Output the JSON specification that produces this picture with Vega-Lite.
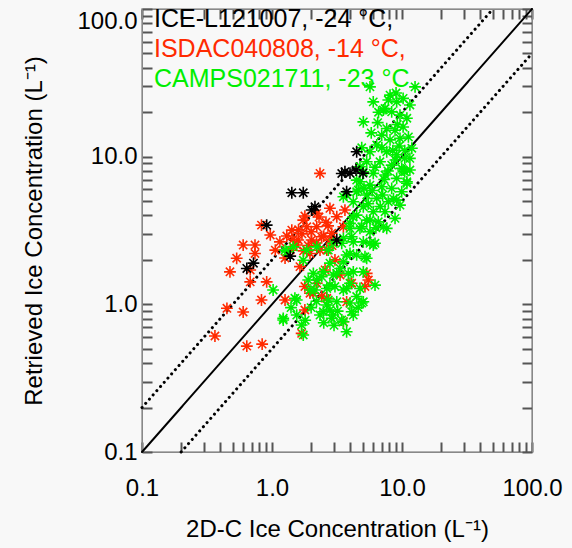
{
  "$schema": "https://vega.github.io/schema/vega-lite/v6.json",
  "width": 390,
  "height": 443,
  "autosize": "none",
  "padding": {"left": 142, "top": 9, "right": 40, "bottom": 96},
  "background": "#f8f8f8",
  "config": {
    "view": {"stroke": "#999999", "strokeWidth": 1.5, "fill": "#f8f8f8"},
    "font": "Liberation Sans"
  },
  "datasets": {
    "pts": [
      {"s":"S","x":2.34,"y":7.71},{"s":"S","x":2.79,"y":4.47},{"s":"S","x":3.64,"y":4.35},{"s":"S","x":0.83,"y":3.44},{"s":"S","x":0.97,"y":2.95},{"s":"S","x":0.6,"y":2.52},{"s":"S","x":0.74,"y":2.52},{"s":"S","x":0.74,"y":2.21},{"s":"S","x":0.535,"y":2.05},{"s":"S","x":0.475,"y":1.66},{"s":"S","x":0.68,"y":1.71},{"s":"S","x":0.68,"y":1.42},{"s":"S","x":0.91,"y":1.42},{"s":"S","x":0.83,"y":1.07},{"s":"S","x":0.45,"y":0.94},{"s":"S","x":0.6,"y":0.887},{"s":"S","x":0.364,"y":0.61},{"s":"S","x":0.64,"y":0.521},{"s":"S","x":0.84,"y":0.538},{"s":"S","x":1.26,"y":1.07},{"s":"S","x":1.79,"y":0.915},{"s":"S","x":1.15,"y":2.65},{"s":"S","x":1.42,"y":3.18},{"s":"S","x":1.74,"y":3.72},{"s":"S","x":1.79,"y":3.96},{"s":"S","x":2.21,"y":4.13},{"s":"S","x":2.21,"y":3.35},{"s":"S","x":2.41,"y":2.87},{"s":"S","x":2.02,"y":2.73},{"s":"S","x":1.59,"y":2.73},{"s":"S","x":1.55,"y":2.52},{"s":"S","x":1.38,"y":2.33},{"s":"S","x":1.96,"y":2.21},{"s":"S","x":2.34,"y":2.33},{"s":"S","x":2.79,"y":2.73},{"s":"S","x":3.54,"y":3.35},{"s":"S","x":3.15,"y":3.92},{"s":"S","x":1.85,"y":3.35},{"s":"S","x":1.64,"y":1.8},{"s":"S","x":2.64,"y":2.33},{"s":"S","x":2.88,"y":3.03},{"s":"S","x":1.79,"y":1.32},{"s":"S","x":1.96,"y":1.19},{"s":"S","x":2.41,"y":1.13},{"s":"S","x":2.21,"y":1.39},{"s":"S","x":3.75,"y":1.04},{"s":"S","x":5.35,"y":1.62},{"s":"S","x":5.51,"y":1.46},{"s":"S","x":5.19,"y":1.32},{"s":"S","x":4.1,"y":1.39},{"s":"S","x":1.69,"y":0.636},{"s":"S","x":3.54,"y":0.763},{"s":"S","x":2.64,"y":1.1},{"s":"S","x":2.08,"y":1.19},{"s":"S","x":1.26,"y":2.06},{"s":"S","x":1.06,"y":2.33},{"s":"S","x":3.05,"y":2.0},{"s":"S","x":3.34,"y":1.58},{"s":"S","x":2.56,"y":1.71},{"s":"S","x":1.9,"y":2.5},{"s":"S","x":2.2,"y":2.6},{"s":"S","x":2.5,"y":2.9},{"s":"S","x":1.7,"y":3.0},{"s":"S","x":2.6,"y":3.6},{"s":"S","x":2.0,"y":3.1},{"s":"S","x":1.6,"y":3.2},{"s":"S","x":2.3,"y":3.9},{"s":"S","x":1.3,"y":2.9},{"s":"S","x":2.7,"y":3.4},{"s":"S","x":1.75,"y":2.3},{"s":"S","x":2.9,"y":2.5},{"s":"S","x":1.45,"y":2.75},
      {"s":"C","x":5.67,"y":29.7},{"s":"C","x":6.01,"y":23.5},{"s":"C","x":12.6,"y":29.7},{"s":"C","x":8.09,"y":26.1},{"s":"C","x":9.1,"y":23.5},{"s":"C","x":10.2,"y":24.8},{"s":"C","x":11.5,"y":22.4},{"s":"C","x":7.4,"y":21.2},{"s":"C","x":8.33,"y":20.1},{"s":"C","x":9.65,"y":19.1},{"s":"C","x":10.9,"y":18.2},{"s":"C","x":5.04,"y":17.2},{"s":"C","x":7.63,"y":15.5},{"s":"C","x":8.84,"y":15.1},{"s":"C","x":10.2,"y":15.9},{"s":"C","x":6.98,"y":14.0},{"s":"C","x":8.09,"y":13.0},{"s":"C","x":9.65,"y":13.3},{"s":"C","x":11.2,"y":13.6},{"s":"C","x":11.9,"y":11.4},{"s":"C","x":6.39,"y":12.0},{"s":"C","x":5.67,"y":10.8},{"s":"C","x":7.63,"y":10.8},{"s":"C","x":9.1,"y":10.3},{"s":"C","x":10.5,"y":9.74},{"s":"C","x":5.35,"y":9.24},{"s":"C","x":6.77,"y":9.24},{"s":"C","x":8.33,"y":8.77},{"s":"C","x":9.95,"y":8.33},{"s":"C","x":11.5,"y":8.12},{"s":"C","x":5.04,"y":7.9},{"s":"C","x":6.01,"y":7.71},{"s":"C","x":7.4,"y":7.51},{"s":"C","x":9.1,"y":7.13},{"s":"C","x":10.9,"y":6.76},{"s":"C","x":4.75,"y":6.76},{"s":"C","x":5.67,"y":6.42},{"s":"C","x":6.98,"y":6.25},{"s":"C","x":8.33,"y":6.1},{"s":"C","x":9.95,"y":5.79},{"s":"C","x":4.48,"y":5.79},{"s":"C","x":5.35,"y":5.5},{"s":"C","x":6.39,"y":5.22},{"s":"C","x":7.85,"y":4.95},{"s":"C","x":9.65,"y":4.7},{"s":"C","x":4.22,"y":4.95},{"s":"C","x":3.75,"y":5.5},{"s":"C","x":5.04,"y":4.58},{"s":"C","x":6.01,"y":4.24},{"s":"C","x":7.4,"y":4.24},{"s":"C","x":8.84,"y":3.82},{"s":"C","x":4.48,"y":4.02},{"s":"C","x":5.35,"y":3.72},{"s":"C","x":6.57,"y":3.62},{"s":"C","x":7.63,"y":3.27},{"s":"C","x":4.75,"y":3.27},{"s":"C","x":5.67,"y":3.1},{"s":"C","x":3.98,"y":3.27},{"s":"C","x":5.04,"y":2.65},{"s":"C","x":6.01,"y":2.52},{"s":"C","x":4.22,"y":2.65},{"s":"C","x":3.54,"y":2.8},{"s":"C","x":4.48,"y":2.16},{"s":"C","x":5.35,"y":2.05},{"s":"C","x":3.75,"y":2.16},{"s":"C","x":5.04,"y":1.66},{"s":"C","x":4.22,"y":1.66},{"s":"C","x":3.34,"y":1.75},{"s":"C","x":6.2,"y":1.35},{"s":"C","x":4.75,"y":1.28},{"s":"C","x":3.75,"y":1.28},{"s":"C","x":2.96,"y":1.58},{"s":"C","x":2.64,"y":1.28},{"s":"C","x":5.04,"y":1.04},{"s":"C","x":3.98,"y":1.02},{"s":"C","x":3.15,"y":1.04},{"s":"C","x":2.64,"y":0.99},{"s":"C","x":4.22,"y":0.846},{"s":"C","x":3.54,"y":0.763},{"s":"C","x":3.75,"y":0.652},{"s":"C","x":2.96,"y":0.846},{"s":"C","x":2.48,"y":0.891},{"s":"C","x":7.85,"y":24.2},{"s":"C","x":7.18,"y":20.7},{"s":"C","x":10.5,"y":7.9},{"s":"C","x":11.5,"y":9.74},
      {"s":"C","x":1.02,"y":1.25},{"s":"C","x":1.22,"y":0.804},{"s":"C","x":1.55,"y":0.846},{"s":"C","x":1.74,"y":0.62},{"s":"C","x":1.69,"y":0.724},{"s":"C","x":1.55,"y":1.07},{"s":"C","x":2.34,"y":0.846},{"s":"C","x":2.79,"y":0.915},{"s":"C","x":2.88,"y":0.804},{"s":"C","x":3.44,"y":0.783},{"s":"C","x":4.1,"y":0.891},{"s":"C","x":4.9,"y":1.02},{"s":"C","x":5.19,"y":2.1},{"s":"C","x":5.67,"y":2.59},{"s":"C","x":1.96,"y":1.25},{"s":"C","x":2.21,"y":1.46},{"s":"C","x":2.79,"y":1.35},{"s":"C","x":3.15,"y":1.62},{"s":"C","x":3.54,"y":1.25},{"s":"C","x":3.98,"y":1.39},{"s":"C","x":4.48,"y":1.13},{"s":"C","x":1.3,"y":2.27},{"s":"C","x":1.74,"y":1.99},{"s":"C","x":2.79,"y":1.9},{"s":"C","x":3.54,"y":1.94},{"s":"C","x":3.98,"y":2.21},{"s":"C","x":2.08,"y":1.62},{"s":"C","x":2.48,"y":1.66},{"s":"C","x":3.54,"y":5.35},{"s":"C","x":4.75,"y":8.54},{"s":"C","x":4.48,"y":6.94},{"s":"C","x":7.18,"y":3.35},{"s":"C","x":9.1,"y":5.08},{"s":"C","x":10.9,"y":6.6},{"s":"C","x":10.2,"y":8.12},{"s":"C","x":1.46,"y":2.45},{"s":"C","x":1.85,"y":2.33},{"s":"C","x":2.21,"y":2.45},{"s":"C","x":2.96,"y":2.59},{"s":"C","x":3.98,"y":3.54},{"s":"C","x":5.67,"y":3.72},{"s":"C","x":6.2,"y":2.59},{"s":"C","x":4.61,"y":5.94},{"s":"C","x":4.9,"y":3.35},{"s":"C","x":1.26,"y":2.33},{"s":"C","x":2.71,"y":2.33},{"s":"C","x":3.44,"y":2.59},{"s":"C","x":4.1,"y":2.87},{"s":"C","x":1.5,"y":1.1},{"s":"C","x":1.22,"y":0.783},{"s":"C","x":1.9,"y":1.46},{"s":"C","x":2.41,"y":1.54},{"s":"C","x":2.14,"y":1.25},{"s":"C","x":3.05,"y":1.32},{"s":"C","x":3.86,"y":1.62},{"s":"C","x":2.71,"y":1.07},
      {"s":"C","x":6.5,"y":17},{"s":"C","x":7.0,"y":11.5},{"s":"C","x":8.5,"y":11},{"s":"C","x":9.2,"y":16.5},{"s":"C","x":6.2,"y":8.5},{"s":"C","x":7.8,"y":8.0},{"s":"C","x":8.9,"y":9.5},{"s":"C","x":5.9,"y":5.9},{"s":"C","x":7.1,"y":5.5},{"s":"C","x":8.6,"y":5.2},{"s":"C","x":6.8,"y":4.6},{"s":"C","x":5.5,"y":4.8},{"s":"C","x":6.3,"y":3.3},{"s":"C","x":4.2,"y":3.9},{"s":"C","x":5.1,"y":6.1},{"s":"C","x":7.3,"y":7.0},{"s":"C","x":9.5,"y":11.8},{"s":"C","x":10.5,"y":11.0},{"s":"C","x":6.6,"y":20},{"s":"C","x":9.0,"y":27},{"s":"C","x":5.8,"y":14.5},{"s":"C","x":4.9,"y":11.5},{"s":"C","x":1.8,"y":0.78},{"s":"C","x":2.0,"y":0.95},{"s":"C","x":2.5,"y":0.75},{"s":"C","x":1.4,"y":0.95},{"s":"C","x":2.2,"y":1.05},{"s":"C","x":3.2,"y":0.9},{"s":"C","x":4.6,"y":0.95},{"s":"C","x":3.0,"y":0.72},
      {"s":"I","x":4.48,"y":10.8},{"s":"I","x":3.64,"y":7.9},{"s":"I","x":3.98,"y":7.74},{"s":"I","x":4.43,"y":8.12},{"s":"I","x":5.01,"y":7.74},{"s":"I","x":3.75,"y":5.79},{"s":"I","x":1.42,"y":5.7},{"s":"I","x":1.74,"y":5.7},{"s":"I","x":2.14,"y":4.58},{"s":"I","x":2.02,"y":4.35},{"s":"I","x":0.91,"y":3.44},{"s":"I","x":0.64,"y":1.75},{"s":"I","x":0.72,"y":1.9},{"s":"I","x":1.38,"y":2.12},{"s":"I","x":3.15,"y":2.73},{"s":"I","x":3.44,"y":7.69}
    ],
    "lines": [
      {"g": "one", "x": 0.1, "y": 0.1}, {"g": "one", "x": 100, "y": 100},
      {"g": "hi", "x": 0.1, "y": 0.2}, {"g": "hi", "x": 50, "y": 100},
      {"g": "lo", "x": 0.2, "y": 0.1}, {"g": "lo", "x": 100, "y": 50}
    ]
  },
  "resolve": {"axis": {"x": "independent", "y": "independent"}},
  "layer": [
    {
      "data": {"name": "lines"},
      "mark": {"type": "line", "color": "black", "strokeCap": "round"},
      "encoding": {
        "x": {"field": "x", "type": "quantitative",
          "scale": {"type": "log", "domain": [0.1, 100], "nice": false},
          "axis": {"orient": "top", "title": null, "labels": false, "grid": false, "ticks": true,
            "tickCount": 5, "tickSize": -10, "tickColor": "#555555", "tickWidth": 2}},
        "y": {"field": "y", "type": "quantitative",
          "scale": {"type": "log", "domain": [0.1, 100], "nice": false},
          "axis": {"orient": "right", "title": null, "labels": false, "grid": false, "ticks": true,
            "tickCount": 5, "tickSize": -10, "tickColor": "#555555", "tickWidth": 2}},
        "detail": {"field": "g"},
        "strokeDash": {"field": "g", "type": "nominal", "legend": null,
          "scale": {"type": "ordinal", "domain": ["one", "hi", "lo"], "range": [[1, 0], [0.1, 5.5], [0.1, 5.5]]}},
        "strokeWidth": {"field": "g", "type": "nominal", "legend": null,
          "scale": {"type": "ordinal", "domain": ["one", "hi", "lo"], "range": [2, 3, 3]}}
      }
    },
    {
      "data": {"name": "pts"},
      "mark": {"type": "point", "shape": "M0,-1L0,1M-1,0L1,0M-0.7,-0.7L0.7,0.7M-0.7,0.7L0.7,-0.7", "filled": false, "size": 140, "strokeWidth": 1.6, "opacity": 1},
      "encoding": {
        "x": {"field": "x", "type": "quantitative",
          "axis": {"orient": "bottom", "title": "2D-C Ice Concentration (L⁻¹)", "grid": false, "ticks": true,
            "values": [0.1,0.2,0.3,0.4,0.5,0.6,0.7,0.8,0.9,1,2,3,4,5,6,7,8,9,10,20,30,40,50,60,70,80,90,100],
            "format": ".1f",
            "labelExpr": "indexof([0.1,1,10,100], datum.value) >= 0 ? datum.label : ''",
            "tickSize": -10, "tickColor": "#555555", "tickWidth": 2,
            "labelFontSize": 24, "titleFontSize": 24, "labelFont": "Liberation Sans", "titleFont": "Liberation Sans",
            "labelColor": "black", "titleColor": "black", "titleFontWeight": "normal",
            "labelOverlap": false, "labelFlush": false, "labelBound": false, "labelPadding": 34, "titlePadding": 17}},
        "y": {"field": "y", "type": "quantitative",
          "axis": {"orient": "left", "title": "Retrieved Ice Concentration (L⁻¹)", "grid": false, "ticks": true,
            "values": [0.1,0.2,0.3,0.4,0.5,0.6,0.7,0.8,0.9,1,2,3,4,5,6,7,8,9,10,20,30,40,50,60,70,80,90,100],
            "format": ".1f",
            "labelExpr": "indexof([0.1,1,10,100], datum.value) >= 0 ? datum.label : ''",
            "tickSize": -10, "tickColor": "#555555", "tickWidth": 2,
            "labelBaseline": {"condition": {"test": "datum.value == 100", "value": "top"}, "value": "middle"},
            "labelFontSize": 24, "titleFontSize": 24, "labelFont": "Liberation Sans", "titleFont": "Liberation Sans",
            "labelColor": "black", "titleColor": "black", "titleFontWeight": "normal",
            "labelOverlap": false, "labelFlush": false, "labelBound": false, "labelPadding": 15, "titlePadding": 30}},
        "color": {"field": "s", "type": "nominal",
          "scale": {"domain": ["I", "S", "C"], "range": ["#000000", "#ff2a00", "#00ee00"]},
          "legend": {"orient": "none", "legendX": -13, "legendY": -3, "title": null,
            "symbolSize": 0, "symbolStrokeWidth": 0, "symbolOpacity": 0, "symbolType": "circle",
            "labelFontSize": 25, "labelFont": "Liberation Sans", "labelOffset": 0, "padding": 0, "rowPadding": 4, "labelLimit": 0,
            "labelColor": {"expr": "scale('color', datum.value)"},
            "labelExpr": "datum.value == 'I' ? 'ICE-L121007, -24 °C,' : datum.value == 'S' ? 'ISDAC040808, -14 °C,' : 'CAMPS021711, -23 °C'"}}
      }
    }
  ]
}
